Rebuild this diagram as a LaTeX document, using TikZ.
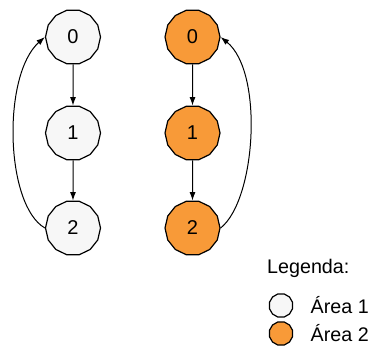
\documentclass[tikz,border=0pt]{standalone}
\usepackage{fontspec}
\setmainfont{Liberation Sans}
\usetikzlibrary{shapes.geometric,arrows.meta}
\definecolor{areaone}{RGB}{247,247,247}
\definecolor{areatwo}{RGB}{248,154,56}
\begin{document}
\begin{tikzpicture}[x=1pt,y=1pt,
  statenode/.style={regular polygon,regular polygon sides=14,minimum size=55pt,inner sep=0pt,draw=black,line width=1.2pt,font=\fontsize{20}{24}\selectfont},
  legnode/.style={regular polygon,regular polygon sides=12,minimum size=24pt,inner sep=0pt,draw=black,line width=1.2pt},
  legtext/.style={anchor=base west,inner sep=0pt,font=\fontsize{19.7}{24}\selectfont},
  edge/.style={line width=1pt,-{Latex[length=8.5pt,width=6pt]}}]
\useasboundingbox (0,0) rectangle (371,-347);
\node[statenode,fill=areaone] (l0) at (73,-37) {0};
\node[statenode,fill=areaone] (l1) at (73,-133) {1};
\node[statenode,fill=areaone] (l2) at (73,-228) {2};
\node[statenode,fill=areatwo] (r0) at (192.5,-37) {0};
\node[statenode,fill=areatwo] (r1) at (192.5,-133) {1};
\node[statenode,fill=areatwo] (r2) at (192.5,-228) {2};
\draw[edge] (l0) -- (l1);
\draw[edge] (l1) -- (l2);
\draw[edge] (r0) -- (r1);
\draw[edge] (r1) -- (r2);
\draw[edge] (l2.west) .. controls (5,-205) and (2,-75) .. (l0.west);
\draw[edge] (r2.east) .. controls (256,-200) and (264,-72) .. (r0.east);
\node[legtext] (leg) at (267,-273) {Legenda:};
\node[legnode,fill=areaone] (c1) at (281,-305.5) {};
\node[legnode,fill=areatwo] (c2) at (281,-333.5) {};
\node[legtext] (t1) at (310.5,-313) {Área 1};
\node[legtext] (t2) at (310.5,-341) {Área 2};
\end{tikzpicture}
\end{document}
